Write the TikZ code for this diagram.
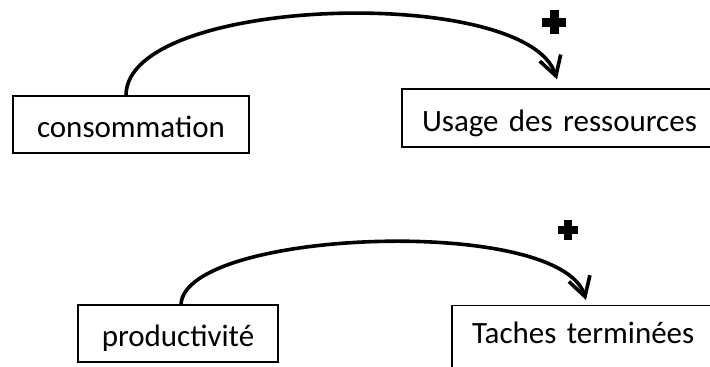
\documentclass[tikz,border=0pt]{standalone}
\usepackage{fontspec}
\setmainfont{Carlito}
\usetikzlibrary{arrows.meta}
\begin{document}
\begin{tikzpicture}[x=1pt,y=-1pt,
  box/.style={draw, line width=1.3pt, rectangle, inner ysep=0pt,
    text height=26pt, text depth=0pt, font=\fontsize{31}{37}\selectfont},
  link/.style={line width=3.6pt,
    -{Straight Barb[length=19pt,width=22pt,line width=3.6pt]}},
  plusmark/.style={fill=black}]
\useasboundingbox (0,0) rectangle (710,367);
\clip (0,0) rectangle (710,367);

% boxes
\node[box, inner xsep=0pt, minimum width=236pt, minimum height=57pt]
  (cons) at (131,124.5) {consommation};
\node[box, inner xsep=20pt, text width=288pt, align=left, minimum height=58pt]
  (res) at (566,118) {Usage des ressources};
\node[box, inner xsep=0pt, minimum width=200pt, minimum height=57pt]
  (prod) at (178,333.5) {productivité};
\node[box, inner xsep=20pt, text width=239pt, align=left,
  text depth=20pt, minimum height=70pt, anchor=north]
  (task) at (591.5,305) {Taches terminées};

% influence arcs
\draw[link] ([xshift=-5pt]cons.north)
  .. controls +(0,-100) and +(-30,-95) .. ([xshift=-9pt,yshift=9pt]res.north);
\draw[link] ([xshift=3pt]prod.north)
  .. controls +(4,-75) and +(-26,-85) .. ([xshift=-5.5pt,yshift=5pt]task.north);

% polarity signs
\fill[plusmark] (554,22) +(-12,-4.5) rectangle +(12,4.5);
\fill[plusmark] (554,22) +(-4.5,-12) rectangle +(4.5,12);
\fill[plusmark] (568,230) +(-10,-3.7) rectangle +(10,3.7);
\fill[plusmark] (568,230) +(-3.7,-10) rectangle +(3.7,10);
\end{tikzpicture}
\end{document}
